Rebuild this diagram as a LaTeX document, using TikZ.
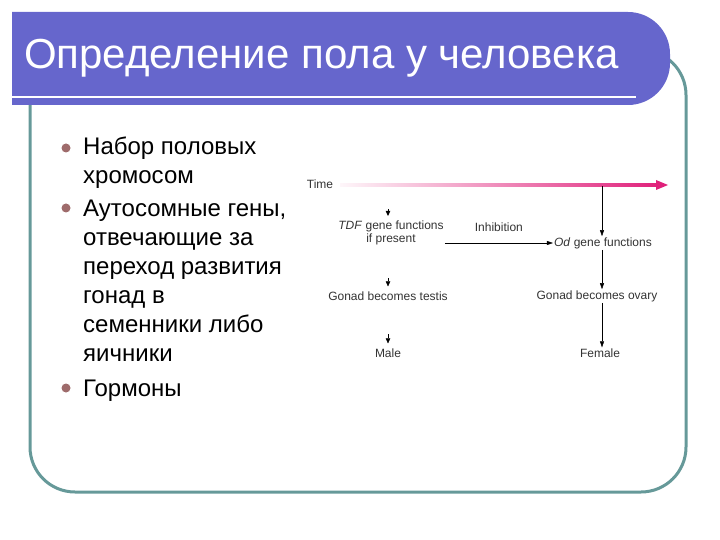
\documentclass[tikz,border=0pt]{standalone}
\usepackage{fontspec}
\setmainfont{Liberation Sans}
\usetikzlibrary{arrows.meta}
\definecolor{banner}{HTML}{6666CC}
\definecolor{frame}{HTML}{669999}
\definecolor{bulletc}{HTML}{9E6B6B}
\definecolor{timec}{HTML}{E0207A}
\definecolor{figtext}{HTML}{333333}
\begin{document}
\begin{tikzpicture}[
    x=1pt, y=-1pt,
    item/.style={anchor=base west, align=left, inner sep=0pt,
        font=\fontsize{24}{29}\selectfont},
    dot/.style={circle, fill=bulletc, inner sep=0pt, minimum size=9pt},
    lbl/.style={inner sep=1pt, align=center, text=figtext,
        font=\fontsize{12}{12.5}\selectfont},
    arrow/.style={-{Triangle[width=4pt,length=6pt]}, thin, black},
    tip/.style={-{Triangle[width=4.5pt,length=5pt]}, thin, black, shorten >=4pt}
]
  \useasboundingbox (0,0) rectangle (720,540);

  % Frame and title bar
  \draw[frame, line width=3pt, rounded corners=45pt] (30,50) rectangle (686,492);
  \fill[banner] (12,105) -- (12,12) [rounded corners=42pt] -- (670,12) -- (670,105) [sharp corners] -- cycle;
  \draw[white, line width=2pt] (12,97) -- (636,97);
  \node[anchor=west, text=white, inner sep=0pt, font=\fontsize{42}{44}\selectfont]
    (title) at (24,58) {Определение пола у человека};

  % Bullet list (anchored at the baseline of the last line)
  \node[dot] (d1) at (66,148) {};
  \node[dot] (d2) at (66,208) {};
  \node[dot] (d3) at (66,388) {};
  \node[item] (i1) at (83,184) {Набор половых\\хромосом};
  \node[item] (i2) at (83,361) {Аутосомные гены,\\отвечающие за\\переход развития\\гонад в\\семенники либо\\яичники};
  \node[item] (i3) at (83,396) {Гормоны};

  % Time axis
  \node[lbl] (time) at (320,184) {Time};
  \shade[left color=timec!4, right color=timec] (340,183.6) rectangle (660,186.4);
  \fill[timec] (656,180) -- (668,185) -- (656,190) -- cycle;
  \coordinate (tdrop) at (602,186);

  % Pathway nodes
  \node[lbl] (tdf)    at (391,233) {\textit{TDF} gene functions\\if present};
  \node[lbl] (od)     at (603,243) {\textit{Od} gene functions};
  \node[lbl] (testis) at (388,296) {Gonad becomes testis};
  \node[lbl] (ovary)  at (597,296) {Gonad becomes ovary};
  \node[lbl] (male)   at (388,353) {Male};
  \node[lbl] (female) at (600,353) {Female};

  % Left column: bare tips
  \coordinate (t1) at (388,209);
  \coordinate (t2) at (388,278);
  \coordinate (t3) at (388,334);
  \draw[tip] (t1) -- (t1 |- tdf.north);
  \draw[tip] (t2) -- (t2 |- testis.north);
  \draw[tip] (t3) -- (t3 |- male.north);

  % Right column
  \draw[arrow] (tdrop) -- (tdrop |- od.north);
  \draw[arrow] (tdf.east |- od.west) -- node[lbl, above=10pt] (inhib) {Inhibition} (od.west);
  \draw[arrow] (tdrop |- od.south) -- (tdrop |- ovary.north);
  \draw[arrow] (tdrop |- ovary.south) -- (tdrop |- female.north);
\end{tikzpicture}
\end{document}
